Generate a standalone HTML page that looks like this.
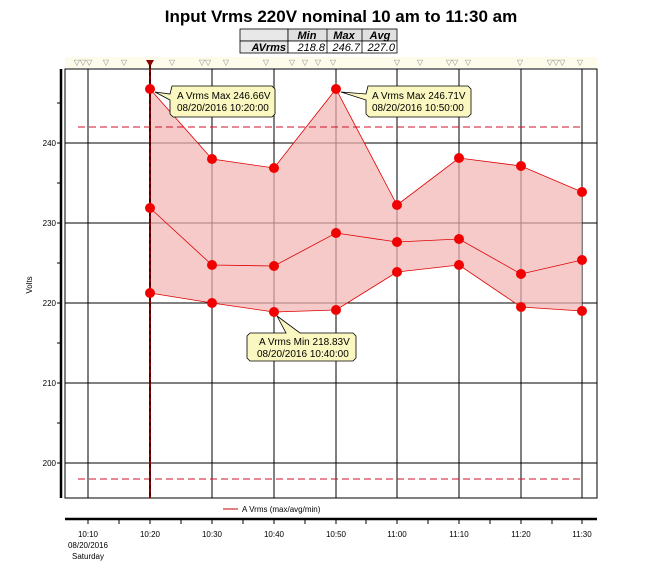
<!DOCTYPE html>
<html><head><meta charset="utf-8"><style>
body{margin:0;background:#fff;}
svg{display:block;font-family:"Liberation Sans",Arial,sans-serif;}
</style></head><body>
<svg width="654" height="573" viewBox="0 0 654 573" xmlns="http://www.w3.org/2000/svg">
<rect width="654" height="573" fill="#fff"/>
<text x="341" y="22" text-anchor="middle" font-size="17" font-weight="bold">Input Vrms 220V nominal 10 am to 11:30 am</text>
<g font-size="11" font-style="italic">
<rect x="240" y="29" width="48" height="12" fill="#e8e8e8" stroke="#000" stroke-width="0.8"/>
<rect x="288" y="29" width="109" height="12" fill="#e0e0e0" stroke="#000" stroke-width="0.8"/>
<rect x="240" y="41" width="48" height="12" fill="#e8e8e8" stroke="#000" stroke-width="0.8"/>
<rect x="288" y="41" width="109" height="12" fill="#fff" stroke="#000" stroke-width="0.8"/>
<line x1="327" y1="29" x2="327" y2="53" stroke="#000" stroke-width="0.8"/>
<line x1="362" y1="29" x2="362" y2="53" stroke="#000" stroke-width="0.8"/>
<text x="307" y="39" text-anchor="middle" font-weight="bold">Min</text>
<text x="344" y="39" text-anchor="middle" font-weight="bold">Max</text>
<text x="380" y="39" text-anchor="middle" font-weight="bold">Avg</text>
<text x="286" y="51" text-anchor="end" font-weight="bold">AVrms</text>
<text x="325" y="51" text-anchor="end">218.8</text>
<text x="360" y="51" text-anchor="end">246.7</text>
<text x="395" y="51" text-anchor="end">227.0</text>
</g>
<rect x="65" y="57" width="532" height="11" fill="#fdfbea"/>
<g font-size="8" fill="#888" text-anchor="middle">
<text x="83" y="65">▽▽▽</text><text x="106" y="65">▽</text><text x="124" y="65">▽</text>
<text x="172" y="65">▽</text><text x="205" y="65">▽▽</text><text x="226" y="65">▽</text>
<text x="266" y="65">▽</text><text x="292" y="65">▽</text><text x="305" y="65">▽</text><text x="318" y="65">▽</text><text x="333" y="65">▽</text>
<text x="397" y="65">▽</text><text x="420" y="65">▽</text><text x="452" y="65">▽▽</text><text x="468" y="65">▽</text>
<text x="520" y="65">▽</text><text x="556" y="65">▽▽▽</text><text x="580" y="65">▽</text>
</g>
<polygon points="146,60 154,60 150,67" fill="#8b0000"/>
<rect x="65" y="69" width="532" height="429" fill="#fff" stroke="#000" stroke-width="1"/>
<g stroke="#000" stroke-width="1">
<line x1="88" y1="69" x2="88" y2="498"/><line x1="212" y1="69" x2="212" y2="498"/>
<line x1="274" y1="69" x2="274" y2="498"/><line x1="336" y1="69" x2="336" y2="498"/>
<line x1="397" y1="69" x2="397" y2="498"/><line x1="459" y1="69" x2="459" y2="498"/>
<line x1="521" y1="69" x2="521" y2="498"/><line x1="582" y1="69" x2="582" y2="498"/>
<line x1="65" y1="143" x2="597" y2="143"/><line x1="65" y1="223" x2="597" y2="223"/>
<line x1="65" y1="303" x2="597" y2="303"/><line x1="65" y1="383" x2="597" y2="383"/>
<line x1="65" y1="463" x2="597" y2="463"/>
</g>
<polygon points="150,89 212,159 274,168 336,89 397,205 459,158 521,166 582,192 582,311 521,307 459,265 397,272 336,310 274,312 212,303 150,293" fill="#f4b4b4" fill-opacity="0.7"/>
<g stroke="#d0102a" stroke-width="1" stroke-dasharray="7,4">
<line x1="78" y1="127" x2="582" y2="127"/>
<line x1="78" y1="479" x2="582" y2="479"/>
</g>
<g fill="none" stroke="#e00000" stroke-width="0.8">
<polyline points="150,89 212,159 274,168 336,89 397,205 459,158 521,166 582,192"/>
<polyline points="150,208 212,265 274,266 336,233 397,242 459,239 521,274 582,260"/>
<polyline points="150,293 212,303 274,312 336,310 397,272 459,265 521,307 582,311"/>
</g>
<line x1="150" y1="65" x2="150" y2="498" stroke="#8b0000" stroke-width="2"/>
<line x1="150" y1="65" x2="150" y2="498" stroke="#000" stroke-width="0.8" stroke-dasharray="4,3"/>
<g fill="#f00000">
<circle cx="150" cy="89" r="5"/><circle cx="212" cy="159" r="5"/><circle cx="274" cy="168" r="5"/><circle cx="336" cy="89" r="5"/><circle cx="397" cy="205" r="5"/><circle cx="459" cy="158" r="5"/><circle cx="521" cy="166" r="5"/><circle cx="582" cy="192" r="5"/>
<circle cx="150" cy="208" r="5"/><circle cx="212" cy="265" r="5"/><circle cx="274" cy="266" r="5"/><circle cx="336" cy="233" r="5"/><circle cx="397" cy="242" r="5"/><circle cx="459" cy="239" r="5"/><circle cx="521" cy="274" r="5"/><circle cx="582" cy="260" r="5"/>
<circle cx="150" cy="293" r="5"/><circle cx="212" cy="303" r="5"/><circle cx="274" cy="312" r="5"/><circle cx="336" cy="310" r="5"/><circle cx="397" cy="272" r="5"/><circle cx="459" cy="265" r="5"/><circle cx="521" cy="307" r="5"/><circle cx="582" cy="311" r="5"/>
</g>
<g font-size="10" fill="#000">
<path d="M155,92 L170,94 L172,86 L272,86 L275,89 L275,114 L272,117 L173,117 L170,114 L170,100 Z" fill="#fbf7c0" stroke="#000" stroke-width="0.8"/>
<text x="177" y="99">A Vrms Max 246.66V</text><text x="177" y="111">08/20/2016 10:20:00</text>
<path d="M341,92 L366,94 L368,86 L468,86 L471,89 L471,114 L468,117 L369,117 L366,114 L366,100 Z" fill="#fbf7c0" stroke="#000" stroke-width="0.8"/>
<text x="372" y="99">A Vrms Max 246.71V</text><text x="372" y="111">08/20/2016 10:50:00</text>
<path d="M277,316 L300,333 L353,333 L356,336 L356,358 L353,361 L250,361 L247,358 L247,336 L250,333 L286,333 Z" fill="#fbf7c0" stroke="#000" stroke-width="0.8"/>
<text x="259" y="345">A Vrms Min 218.83V</text><text x="257" y="357">08/20/2016 10:40:00</text>
</g>
<line x1="61" y1="69" x2="61" y2="498" stroke="#000" stroke-width="2.5"/>
<g stroke="#000" stroke-width="1">
<line x1="57" y1="103" x2="61" y2="103"/><line x1="57" y1="143" x2="61" y2="143"/><line x1="57" y1="183" x2="61" y2="183"/>
<line x1="57" y1="223" x2="61" y2="223"/><line x1="57" y1="263" x2="61" y2="263"/><line x1="57" y1="303" x2="61" y2="303"/>
<line x1="57" y1="343" x2="61" y2="343"/><line x1="57" y1="383" x2="61" y2="383"/><line x1="57" y1="423" x2="61" y2="423"/>
<line x1="57" y1="463" x2="61" y2="463"/>
</g>
<g font-size="8" text-anchor="end">
<text x="56" y="146">240</text><text x="56" y="226">230</text><text x="56" y="306">220</text><text x="56" y="386">210</text><text x="56" y="466">200</text>
</g>
<text x="32" y="285" font-size="8" text-anchor="middle" transform="rotate(-90 32 285)">Volts</text>
<line x1="223" y1="509" x2="238" y2="509" stroke="#c00000" stroke-width="1"/>
<text x="242" y="512" font-size="8">A Vrms (max/avg/min)</text>
<line x1="65" y1="519" x2="597" y2="519" stroke="#000" stroke-width="2.5"/>
<g stroke="#000" stroke-width="1">
<line x1="88" y1="519" x2="88" y2="524"/><line x1="119" y1="519" x2="119" y2="524"/><line x1="150" y1="519" x2="150" y2="524"/><line x1="181" y1="519" x2="181" y2="524"/>
<line x1="212" y1="519" x2="212" y2="524"/><line x1="243" y1="519" x2="243" y2="524"/><line x1="274" y1="519" x2="274" y2="524"/><line x1="305" y1="519" x2="305" y2="524"/>
<line x1="336" y1="519" x2="336" y2="524"/><line x1="366" y1="519" x2="366" y2="524"/><line x1="397" y1="519" x2="397" y2="524"/><line x1="428" y1="519" x2="428" y2="524"/>
<line x1="459" y1="519" x2="459" y2="524"/><line x1="490" y1="519" x2="490" y2="524"/><line x1="521" y1="519" x2="521" y2="524"/><line x1="552" y1="519" x2="552" y2="524"/>
<line x1="582" y1="519" x2="582" y2="524"/>
</g>
<g font-size="8" text-anchor="middle">
<text x="88" y="537">10:10</text><text x="88" y="548">08/20/2016</text><text x="88" y="559">Saturday</text>
<text x="150" y="537">10:20</text><text x="212" y="537">10:30</text><text x="274" y="537">10:40</text><text x="336" y="537">10:50</text>
<text x="397" y="537">11:00</text><text x="459" y="537">11:10</text><text x="521" y="537">11:20</text><text x="582" y="537">11:30</text>
</g>
</svg>
</body></html>
